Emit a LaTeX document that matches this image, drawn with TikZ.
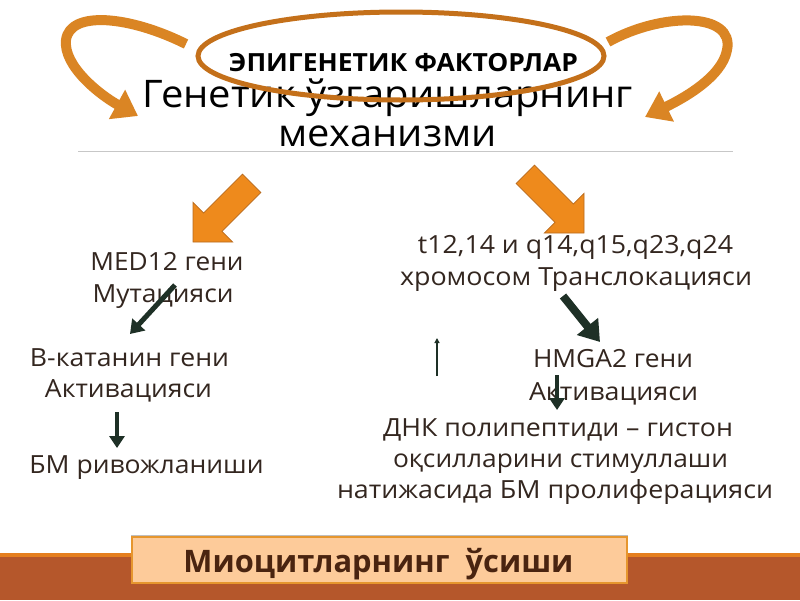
\documentclass[tikz,border=0pt]{standalone}
\usepackage{fontspec}
\usepackage{graphicx}
\setmainfont{Open Sans}
\newfontfamily\condb{Open Sans}[FakeStretch=0.8]
\usetikzlibrary{arrows.meta}
\definecolor{txt}{HTML}{33261F}
\definecolor{ribbon}{HTML}{DA8524}
\definecolor{ellc}{HTML}{C4701A}
\definecolor{blockor}{HTML}{EE8A1C}
\definecolor{blockedge}{HTML}{B86A1E}
\definecolor{darkarr}{HTML}{1E3026}
\definecolor{bandc}{HTML}{B5572B}
\definecolor{bandtop}{HTML}{E57F1F}
\definecolor{boxfill}{HTML}{FDCB9A}
\definecolor{boxedge}{HTML}{E6962E}
\definecolor{miotxt}{HTML}{4A2410}
\newcommand\fw[2]{\resizebox{#1pt}{\height}{#2}}
\begin{document}
\begin{tikzpicture}[x=1pt,y=-1pt,
  body/.style={anchor=base,inner sep=0pt,text=txt,font=\fontsize{25}{30}\selectfont},
  head/.style={anchor=base,inner sep=0pt,text=black,font=\fontsize{38}{42}\selectfont},
  rib/.style={line width=10pt,draw=ribbon,-{Triangle[width=32pt,length=24pt]}},
  darrow/.style={draw=darkarr,line width=5pt,-{Triangle[width=17pt,length=13pt]}},
  blockarrow/.style={fill=blockor,draw=blockedge,line width=0.8pt,line join=miter}]
\useasboundingbox (0,0) rectangle (800,600);
\fill[white] (0,0) rectangle (800,600);

% curved ribbons
\draw[rib] (186,44) .. controls (130,16) and (70,10) .. (66,40) .. controls (63,66) and (100,95) .. (138,116);
\draw[rib] (608,42) .. controls (662,12) and (735,12) .. (727,50) .. controls (722,78) and (680,100) .. (645,117);

% heading
\node[head] (h1) at (388,107) {\fw{490}{Генетик ўзгаришларнинг}};
\node[head] (h2) at (387.5,146.5) {\fw{219}{механизми}};

% ellipse
\draw[ellc,line width=5pt] (401,56) ellipse [x radius=203pt, y radius=44pt];
\node[anchor=base,inner sep=0pt,text=black,font=\condb\bfseries\fontsize{25}{30}\selectfont] (epi) at (403.5,71) {\fw{349}{ЭПИГЕНЕТИК ФАКТОРЛАР}};

% rule
\draw[black!22,line width=1pt] (78,151.5) -- (733,151.5);

% block arrows
\draw[blockarrow] (242.5,174.1) -- (203.6,213) -- (193,202.4) -- (193,242) -- (232.6,242) -- (222,231.4) -- (260.9,192.5) -- cycle;
\draw[blockarrow] (534.5,165.1) -- (573.4,204) -- (584,193.4) -- (584,233) -- (544.4,233) -- (555,222.4) -- (516.1,183.5) -- cycle;

% left column
\node[body] (med1) at (167,270) {\fw{153}{MED12 гени}};
\node[body] (med2) at (163,302.5) {\fw{141}{Мутацияси}};
\node[body] (bc1) at (129.5,366) {\fw{199}{В-катанин гени}};
\node[body] (bc2) at (128.5,397) {\fw{167}{Активацияси}};
\node[body] (bm) at (146.5,473) {\fw{234}{БМ ривожланиши}};

% right column
\node[body] (t1) at (575.5,253) {\fw{315}{t12,14 и q14,q15,q23,q24}};
\node[body] (t2) at (576,285) {\fw{352}{хромосом Транслокацияси}};
\node[body] (hm1) at (613,367) {\fw{160}{HMGA2 гени}};
\node[body] (hm2) at (613.5,400) {\fw{169}{Активацияси}};
\node[body] (d1) at (558,436) {\fw{350}{ДНК полипептиди – гистон}};
\node[body] (d2) at (560.5,467) {\fw{335}{оқсилларини стимуллаши}};
\node[body] (d3) at (555,498) {\fw{436}{натижасида БМ пролиферацияси}};

% dark arrows
\coordinate (a3s) at (175,285); \coordinate (a3e) at (130,334);
\coordinate (a4s) at (117,412); \coordinate (a4e) at (117,448);
\coordinate (a5s) at (563,296); \coordinate (a5e) at (600,342);
\coordinate (a6s) at (437,376); \coordinate (a6e) at (437,338);
\coordinate (a7s) at (557,375); \coordinate (a7e) at (557,410);
\draw[darrow] (a3s) -- (a3e);
\draw[darrow,line width=4pt,-{Triangle[width=15pt,length=12pt]}] (a4s) -- (a4e);
\draw[darrow,line width=8pt,-{Triangle[width=26pt,length=20pt]}] (a5s) -- (a5e);
\draw[draw=darkarr,line width=1.3pt,-{Triangle[width=5pt,length=5pt]}] (a6s) -- (a6e);
\draw[darrow,line width=4pt,-{Triangle[width=15pt,length=12pt]}] (a7s) -- (a7e);

% bottom band
\fill[bandc] (0,555) rectangle (800,600);
\fill[bandtop] (0,553) rectangle (800,557);
\fill[black!25] (131,534.5) rectangle (628,582);
\node[draw=boxedge,fill=boxfill,line width=1.5pt,minimum width=495pt,minimum height=46pt,inner sep=0pt] (box) at (379.5,560) {};
\node[anchor=base,inner sep=0pt,text=miotxt,font=\condb\bfseries\fontsize{31}{34}\selectfont] (mio) at (378.5,572) {\fw{390}{Миоцитларнинг\ \ ўсиши}};
\end{tikzpicture}
\end{document}
